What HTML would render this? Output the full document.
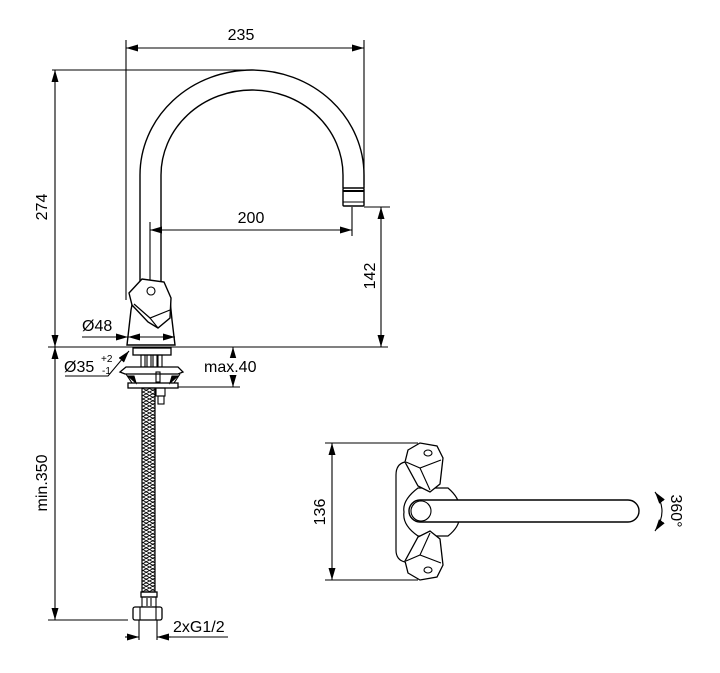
<!DOCTYPE html>
<html><head><meta charset="utf-8"><style>
html,body{margin:0;padding:0;background:#fff;}
svg{display:block}
text{font-family:"Liberation Sans",sans-serif;font-size:16px;fill:#000}
</style></head><body>
<svg width="720" height="673" viewBox="0 0 720 673" xmlns="http://www.w3.org/2000/svg">
<defs>
<marker id="a" viewBox="0 0 12 7" refX="12" refY="3.5" markerWidth="12" markerHeight="7" orient="auto-start-reverse" markerUnits="userSpaceOnUse"><path d="M0,0 L12,3.5 L0,7z" fill="#000"/></marker>
<pattern id="h" width="13" height="7" patternUnits="userSpaceOnUse"><path d="M0,0 L6.5,3.5 L13,0 M0,7 L6.5,3.5 L13,7 M0,3.5 L6.5,7 L13,3.5 M0,3.5 L6.5,0 L13,3.5" stroke="#000" stroke-width="0.8" fill="none"/></pattern>
</defs>
<g stroke="#000" stroke-width="1.1" fill="none">
<line x1="126" y1="48" x2="364" y2="48" marker-start="url(#a)" marker-end="url(#a)"/>
<line x1="126" y1="40" x2="126" y2="300"/>
<line x1="364" y1="40" x2="364" y2="185"/>
<line x1="52" y1="70" x2="250" y2="70"/>
<line x1="55" y1="70" x2="55" y2="347" marker-start="url(#a)" marker-end="url(#a)"/>
<line x1="48" y1="347" x2="388" y2="347"/>
<path d="M140,285 L140,175 A112,105 0 0 1 364,175 L364,188" stroke-width="1.4"/>
<path d="M161,285 L161,175 A91,85 0 0 1 343,175 L343,188" stroke-width="1.4"/>
<rect x="343" y="188" width="21" height="18" rx="1" stroke-width="1.4"/>
<line x1="343" y1="191" x2="364" y2="191" stroke-width="2"/>
<line x1="343" y1="202" x2="364" y2="202"/>
<line x1="150" y1="222" x2="150" y2="340"/>
<line x1="352" y1="207" x2="352" y2="236"/>
<line x1="150" y1="230" x2="352" y2="230" marker-start="url(#a)" marker-end="url(#a)"/>
<line x1="364" y1="207" x2="390" y2="207"/>
<line x1="381" y1="207" x2="381" y2="347" marker-start="url(#a)" marker-end="url(#a)"/>
<path d="M127,345 L131,310 L133,300 L160,300 L170,300 L172,320 L175,345 Z" fill="#fff" stroke-width="1.4"/>
<path d="M129,293 L142,279 L164,282 L171,298 L170,318 L158,328 L148,322 L132,305 Z" fill="#fff" stroke-width="1.4"/>
<circle cx="151" cy="291" r="4"/>
<path d="M134,304 L150,318 L170,310" stroke-width="1.2"/>
<path d="M150,318 L158,328"/>
<line x1="82" y1="337" x2="128" y2="337" marker-end="url(#a)"/>
<line x1="128" y1="337" x2="175" y2="337" marker-start="url(#a)" marker-end="url(#a)"/>
<polyline points="65,376 108,376 129,351" marker-end="url(#a)"/>
<rect x="133" y="348" width="38" height="7" stroke-width="1.3"/>
<rect x="141" y="355" width="4" height="12"/><rect x="147" y="355" width="4" height="12"/><rect x="153" y="355" width="4" height="12"/><rect x="158" y="355" width="4" height="12"/>
<path d="M120,372 L126,367 L178,367 L183,372 L178,374 L125,374 Z" fill="#fff" stroke-width="1.3"/>
<path d="M126,374 L132,383 L174,383 L180,374"/>
<path d="M128,376 L136,383 L134,376 Z M178,376 L170,383 L172,376 Z" fill="#000"/>
<rect x="156" y="372" width="4" height="10"/>
<rect x="128" y="383" width="50" height="5" stroke-width="1.3"/>
<line x1="178" y1="387" x2="240" y2="387"/>
<line x1="233" y1="347" x2="233" y2="387" marker-start="url(#a)" marker-end="url(#a)"/>
<rect x="156" y="388" width="9" height="8"/>
<rect x="158" y="396" width="6" height="8"/>
<rect x="142" y="388" width="13" height="204" fill="url(#h)" stroke-width="1.2"/>
<rect x="141" y="592" width="16" height="5" stroke-width="1.3"/>
<rect x="142" y="597" width="14" height="10"/>
<line x1="147" y1="598" x2="147" y2="606"/><line x1="151" y1="598" x2="151" y2="606"/>
<rect x="133" y="607" width="29" height="13" rx="2" fill="#fff" stroke-width="1.3"/>
<line x1="140" y1="607" x2="140" y2="620"/><line x1="156" y1="607" x2="156" y2="620"/>
<line x1="55" y1="347" x2="55" y2="620" marker-start="url(#a)" marker-end="url(#a)"/>
<line x1="48" y1="620" x2="128" y2="620"/>
<line x1="139" y1="620" x2="139" y2="640"/>
<line x1="157" y1="620" x2="157" y2="640"/>
<line x1="125" y1="637" x2="139" y2="637" marker-end="url(#a)"/>
<line x1="171" y1="637" x2="157" y2="637" marker-end="url(#a)"/>
<line x1="171" y1="637" x2="228" y2="637"/>
<line x1="325" y1="443" x2="418" y2="443"/>
<line x1="325" y1="580" x2="418" y2="580"/>
<line x1="332" y1="443" x2="332" y2="580" marker-start="url(#a)" marker-end="url(#a)"/>
<path d="M405,462 Q396,464 396,475 L396,550 Q396,560 405,562" stroke-width="1.2"/>
<path d="M418,488 Q402,500 404,512 Q402,525 418,536 L448,536 Q462,525 459,512 Q462,500 448,488 Z" fill="#fff" stroke-width="1.2"/>
<path d="M408,450 L420,443 L437,446 L443,458 L440,484 L430,492 L418,486 L405,462 Z" fill="#fff" stroke-width="1.3"/>
<path d="M406,462 L420,468 L441,460"/><path d="M420,468 L430,490"/>
<ellipse cx="428" cy="453" rx="4" ry="3"/>
<path d="M408,573 L420,580 L437,577 L443,565 L440,539 L430,531 L418,537 L405,561 Z" fill="#fff" stroke-width="1.3"/>
<path d="M406,561 L420,555 L441,563"/><path d="M420,555 L430,533"/>
<ellipse cx="428" cy="570" rx="4" ry="3"/>
<path d="M420,500 L628,500 A11,11 0 0 1 628,522 L420,522 A11,11 0 0 1 420,500 Z" fill="#fff" stroke-width="1.4"/>
<circle cx="421" cy="511" r="10"/>
<path d="M655,492 Q669,511 655,531" marker-start="url(#a)" marker-end="url(#a)"/>
</g>
<rect x="203" y="358" width="56" height="17" fill="#fff"/>
<text x="241" y="40" text-anchor="middle">235</text>
<text x="251" y="223" text-anchor="middle">200</text>
<text transform="translate(47,207) rotate(-90)" text-anchor="middle">274</text>
<text transform="translate(375,276) rotate(-90)" text-anchor="middle">142</text>
<text transform="translate(47,483) rotate(-90)" text-anchor="middle">min.350</text>
<text transform="translate(325,512) rotate(-90)" text-anchor="middle">136</text>
<text transform="translate(671,511) rotate(90)" text-anchor="middle">360°</text>
<text x="82" y="331">Ø48</text>
<text x="64" y="372">Ø35</text>
<text x="101" y="362" style="font-size:10px">+2</text>
<text x="102" y="374" style="font-size:10px">-1</text>
<text x="204" y="372">max.40</text>
<text x="173" y="632">2xG1/2</text>
</svg>
</body></html>
